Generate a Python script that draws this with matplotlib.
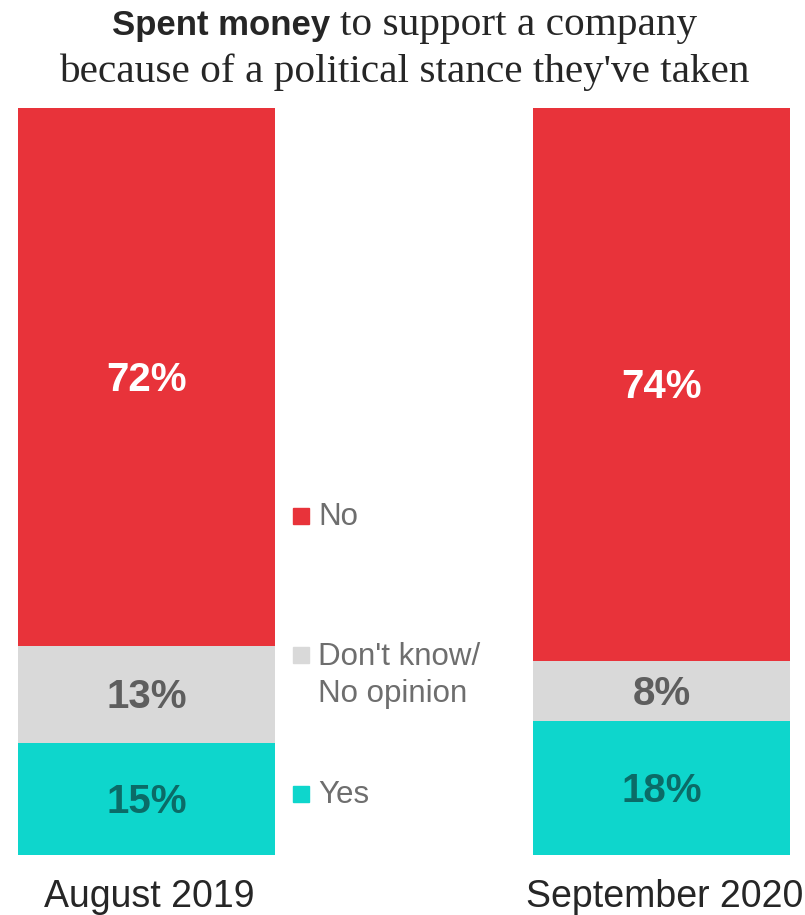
import matplotlib.pyplot as plt
import matplotlib.transforms as mtrans
from matplotlib.patches import Rectangle

categories = ['August 2019', 'September 2020']
yes = [15, 18]
dont_know = [13, 8]
no = [72, 74]
legend_labels = ['No', "Don't know/\nNo opinion", 'Yes']

red = '#E8333A'
grey = '#D9D9D9'
teal = '#0ED6CC'

W, H = 805, 915

def fx(px):
    return px / W

def fy(py):
    # py measured from the top of the picture
    return 1 - py / H

fig = plt.figure(figsize=(W / 100, H / 100), dpi=100)
ax = fig.add_axes([0, 60 / H, 1, 747 / H])

pos = [0, 1]
width = 257 / 515

b1 = ax.bar(pos, yes, width, color=teal)
b2 = ax.bar(pos, dont_know, width, bottom=yes, color=grey)
bottoms = [a + b for a, b in zip(yes, dont_know)]
b3 = ax.bar(pos, no, width, bottom=bottoms, color=red)

lab_font = dict(fontsize=29, family='Liberation Sans', fontweight='bold')
anns = []
anns += ax.bar_label(b1, labels=[f'{v}%' for v in yes], label_type='center',
                     color='#0B6B67', **lab_font)
anns += ax.bar_label(b2, labels=[f'{v}%' for v in dont_know], label_type='center',
                     color='#5E5E5E', **lab_font)
anns += ax.bar_label(b3, labels=[f'{v}%' for v in no], label_type='center',
                     color='white', **lab_font)
for a in anns:
    a.xyann = (0, -2.2)

ax.set_xlim(-146.5 / 515, 1 + 143.5 / 515)
ax.set_ylim(0, 100)
ax.set_xticks(pos)
ax.set_xticklabels(categories, fontsize=27, family='Liberation Sans', color='#262626')
ax.tick_params(axis='x', length=0, pad=17)
shift = mtrans.ScaledTranslation(3 / 100, 0, fig.dpi_scale_trans)
for t in ax.get_xticklabels():
    t.set_transform(t.get_transform() + shift)
ax.set_yticks([])
for s in ax.spines.values():
    s.set_visible(False)

# title: sans part + serif part
fig.text(fx(330), fy(35), 'Spent money', ha='right', va='baseline',
         fontsize=25, family='Liberation Sans', fontweight='bold', color='#262626')
fig.text(fx(340), fy(35), 'to support a company', ha='left', va='baseline',
         fontsize=29.7, family='Liberation Serif', color='#262626')
fig.text(fx(404), fy(82), "because of a political stance they've taken",
         ha='center', va='baseline', fontsize=29.7, family='Liberation Serif',
         color='#262626')

# legend in the gap between the bars
leg_colors = [red, grey, teal]
leg_y = [516, 655, 794]
for lab, c, y in zip(legend_labels, leg_colors, leg_y):
    fig.patches.append(Rectangle((fx(293), fy(y + 8)), 16 / W, 16 / H,
                                 transform=fig.transFigure, color=c))
    if '\n' in lab:
        fig.text(fx(318), fy(y - 13), lab, ha='left', va='top',
                 fontsize=22.5, family='Liberation Sans', color='#6E6E6E',
                 linespacing=1.3)
    else:
        fig.text(fx(318), fy(y + 1), lab, ha='left', va='center',
                 fontsize=22.5, family='Liberation Sans', color='#6E6E6E')

plt.savefig('out.png', dpi=100)
